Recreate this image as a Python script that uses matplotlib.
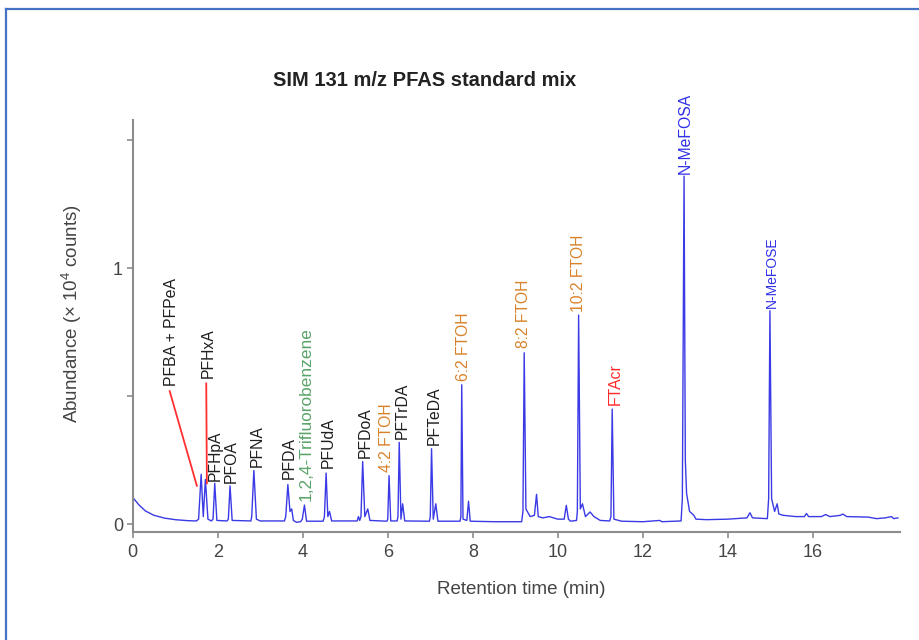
import matplotlib
matplotlib.use("Agg")
import matplotlib.pyplot as plt
from matplotlib.lines import Line2D

plt.rcParams["font.family"] = ["Liberation Sans", "DejaVu Sans"]
plt.rcParams["mathtext.fontset"] = "custom"
plt.rcParams["mathtext.rm"] = "Liberation Sans"
plt.rcParams["mathtext.default"] = "regular"

# chromatogram trace: retention time (min), abundance (x 10^4 counts)
trace_t = [
    0.0, 0.05, 0.15, 0.3, 0.5, 0.75, 1.0, 1.3, 1.5,
    1.55, 1.61, 1.66, 1.71, 1.77, 1.85,
    1.89, 1.93, 1.98, 2.22,
    2.25, 2.29, 2.34, 2.78,
    2.80, 2.85, 2.91, 3.0, 3.57,
    3.60, 3.65, 3.70, 3.74, 3.78, 3.85, 3.95,
    3.99, 4.04, 4.09, 4.48,
    4.51, 4.55, 4.59, 4.63, 4.68, 5.28,
    5.31, 5.34, 5.37, 5.41, 5.46, 5.53, 5.58, 5.98,
    6.0, 6.03, 6.07, 6.22,
    6.24, 6.27, 6.31, 6.35, 6.40, 6.98,
    7.0, 7.03, 7.07, 7.13, 7.18, 7.70,
    7.72, 7.74, 7.77, 7.86, 7.90, 7.94, 8.5, 9.15,
    9.18, 9.21, 9.25, 9.35, 9.45, 9.50, 9.54, 9.65, 9.8, 10.0, 10.15, 10.20, 10.25, 10.3, 10.44,
    10.46, 10.49, 10.53, 10.58, 10.65, 10.76, 10.85, 11.0, 11.22,
    11.25, 11.28, 11.32, 11.5, 12.0, 12.4, 12.45, 12.9,
    12.93, 12.97, 13.00, 13.03, 13.1, 13.2, 13.25, 13.5, 14.0, 14.45, 14.52, 14.58, 14.93,
    14.96, 14.99, 15.03, 15.1, 15.16, 15.2, 15.3, 15.6, 15.8, 15.85, 15.9, 16.2, 16.3, 16.4,
    16.65, 16.7, 16.8, 17.3, 17.5, 17.7, 17.85, 17.9, 18.0,
]
trace_y = [
    0.105, 0.095, 0.075, 0.052, 0.035, 0.024, 0.018, 0.014, 0.013,
    0.02, 0.195, 0.03, 0.175, 0.02, 0.013,
    0.02, 0.16, 0.015, 0.013,
    0.02, 0.15, 0.015, 0.013,
    0.03, 0.21, 0.02, 0.013, 0.013,
    0.03, 0.155, 0.05, 0.06, 0.015, 0.008, 0.01,
    0.02, 0.075, 0.012, 0.012,
    0.03, 0.20, 0.03, 0.05, 0.013, 0.013,
    0.03, 0.015, 0.03, 0.245, 0.03, 0.06, 0.015, 0.012,
    0.02, 0.19, 0.013, 0.013,
    0.03, 0.32, 0.02, 0.08, 0.013, 0.012,
    0.03, 0.295, 0.02, 0.08, 0.012, 0.012,
    0.03, 0.545, 0.02, 0.015, 0.09, 0.012, 0.01, 0.01,
    0.05, 0.67, 0.06, 0.03, 0.035, 0.117, 0.03, 0.025, 0.03, 0.02, 0.02, 0.074, 0.02, 0.012, 0.015,
    0.05, 0.817, 0.06, 0.08, 0.03, 0.048, 0.03, 0.015, 0.013,
    0.03, 0.45, 0.02, 0.012, 0.01, 0.015, 0.01, 0.013,
    0.1, 1.36, 0.25, 0.12, 0.05, 0.035, 0.02, 0.018, 0.02, 0.025, 0.045, 0.025, 0.022,
    0.1, 0.834, 0.1, 0.05, 0.08, 0.04, 0.035, 0.03, 0.03, 0.042, 0.03, 0.03, 0.038, 0.03,
    0.035, 0.04, 0.03, 0.028, 0.022, 0.025, 0.03, 0.022, 0.025,
]

# peak labels
label_names = [
    "PFBA + PFPeA", "PFHxA", "PFHpA", "PFOA", "PFNA", "PFDA",
    "1,2,4-Trifluorobenzene", "PFUdA", "PFDoA", "4:2 FTOH", "PFTrDA", "PFTeDA",
    "6:2 FTOH", "8:2 FTOH", "10:2 FTOH", "FTAcr", "N-MeFOSA", "N-MeFOSE",
]
label_x = [0.91, 1.77, 1.95, 2.32, 2.94, 3.69, 4.09, 4.61, 5.46, 5.97, 6.33, 7.09,
           7.79, 9.20, 10.48, 11.34, 13.0, 15.03]
label_y = [0.54, 0.57, 0.17, 0.163, 0.225, 0.175, 0.09, 0.22, 0.257, 0.205, 0.335, 0.31,
           0.56, 0.687, 0.83, 0.467, 1.37, 0.843]
label_group = ["acid"] * 6 + ["istd"] + ["acid"] * 2 + ["ftoh"] + ["acid"] * 2 + \
    ["ftoh"] * 3 + ["acr"] + ["fosa"] * 2

# leader lines for the two crowded early peaks: (x0, y0, x1, y1)
leader_lines = [
    (0.87, 0.52, 1.51, 0.15),
    (1.73, 0.55, 1.745, 0.16),
]

group_colors = {
    "acid": "#1e1e1e",
    "istd": "#5aa469",
    "ftoh": "#d9822b",
    "acr": "#ff2a2a",
    "fosa": "#2f2fe8",
}

W, H = 919, 640
fig = plt.figure(figsize=(W / 100, H / 100), dpi=100)
ax = fig.add_axes([132.7 / W, (H - 531.7) / H, (900 - 132.7) / W, (531.7 - 120) / H])

ax.plot(trace_t, trace_y, color="#3a3ae6", linewidth=1.0, solid_joinstyle="round")

for name, x, y, grp in zip(label_names, label_x, label_y, label_group):
    size = 11.3
    if grp == "istd":
        size = 12.4
    if name == "N-MeFOSE":
        size = 10
    ax.text(x, y, name, rotation=90, ha="center", va="bottom",
            color=group_colors[grp], fontsize=size)

for x0, y0, x1, y1 in leader_lines:
    ax.plot([x0, x1], [y0, y1], color="#ff3030", linewidth=1.3)

ax.set_xlim(0, 18.05)
ax.set_ylim(-0.029, 1.579)
ax.set_xticks(range(0, 17, 2))
ax.set_yticks([0, 0.5, 1, 1.5])
ax.set_yticklabels(["0", "", "1", ""])

for side in ["top", "right"]:
    ax.spines[side].set_visible(False)
for side in ["left", "bottom"]:
    ax.spines[side].set_color("#8c8c8c")
    ax.spines[side].set_linewidth(1.5)
ax.tick_params(direction="out", length=4, width=1.2, color="#8c8c8c",
               labelcolor="#444444", labelsize=13)
ax.tick_params(axis="x", pad=5)
ax.tick_params(axis="y", pad=3)

fig.text(425 / W, 1 - 80 / H, "SIM 131 m/z PFAS standard mix", ha="center", va="center",
         fontsize=14.5, fontweight="bold", color="#222222")
fig.text(521 / W, 1 - 590 / H, "Retention time (min)", ha="center", va="center",
         fontsize=13.5, color="#444444")
fig.text(72 / W, 1 - 314 / H, "Abundance (× 10$^{4}$ counts)", ha="center", va="center",
         rotation=90, fontsize=13.5, color="#444444")

# blue frame around the picture (left and top edges visible)
fig.add_artist(Line2D([5.5 / W, 5.5 / W], [0, 1 - 8.5 / H], transform=fig.transFigure,
                      color="#4472c4", linewidth=1.6))
fig.add_artist(Line2D([5.5 / W, 1], [1 - 8.5 / H, 1 - 8.5 / H], transform=fig.transFigure,
                      color="#4472c4", linewidth=1.6))

fig.savefig("out.png", dpi=100)
